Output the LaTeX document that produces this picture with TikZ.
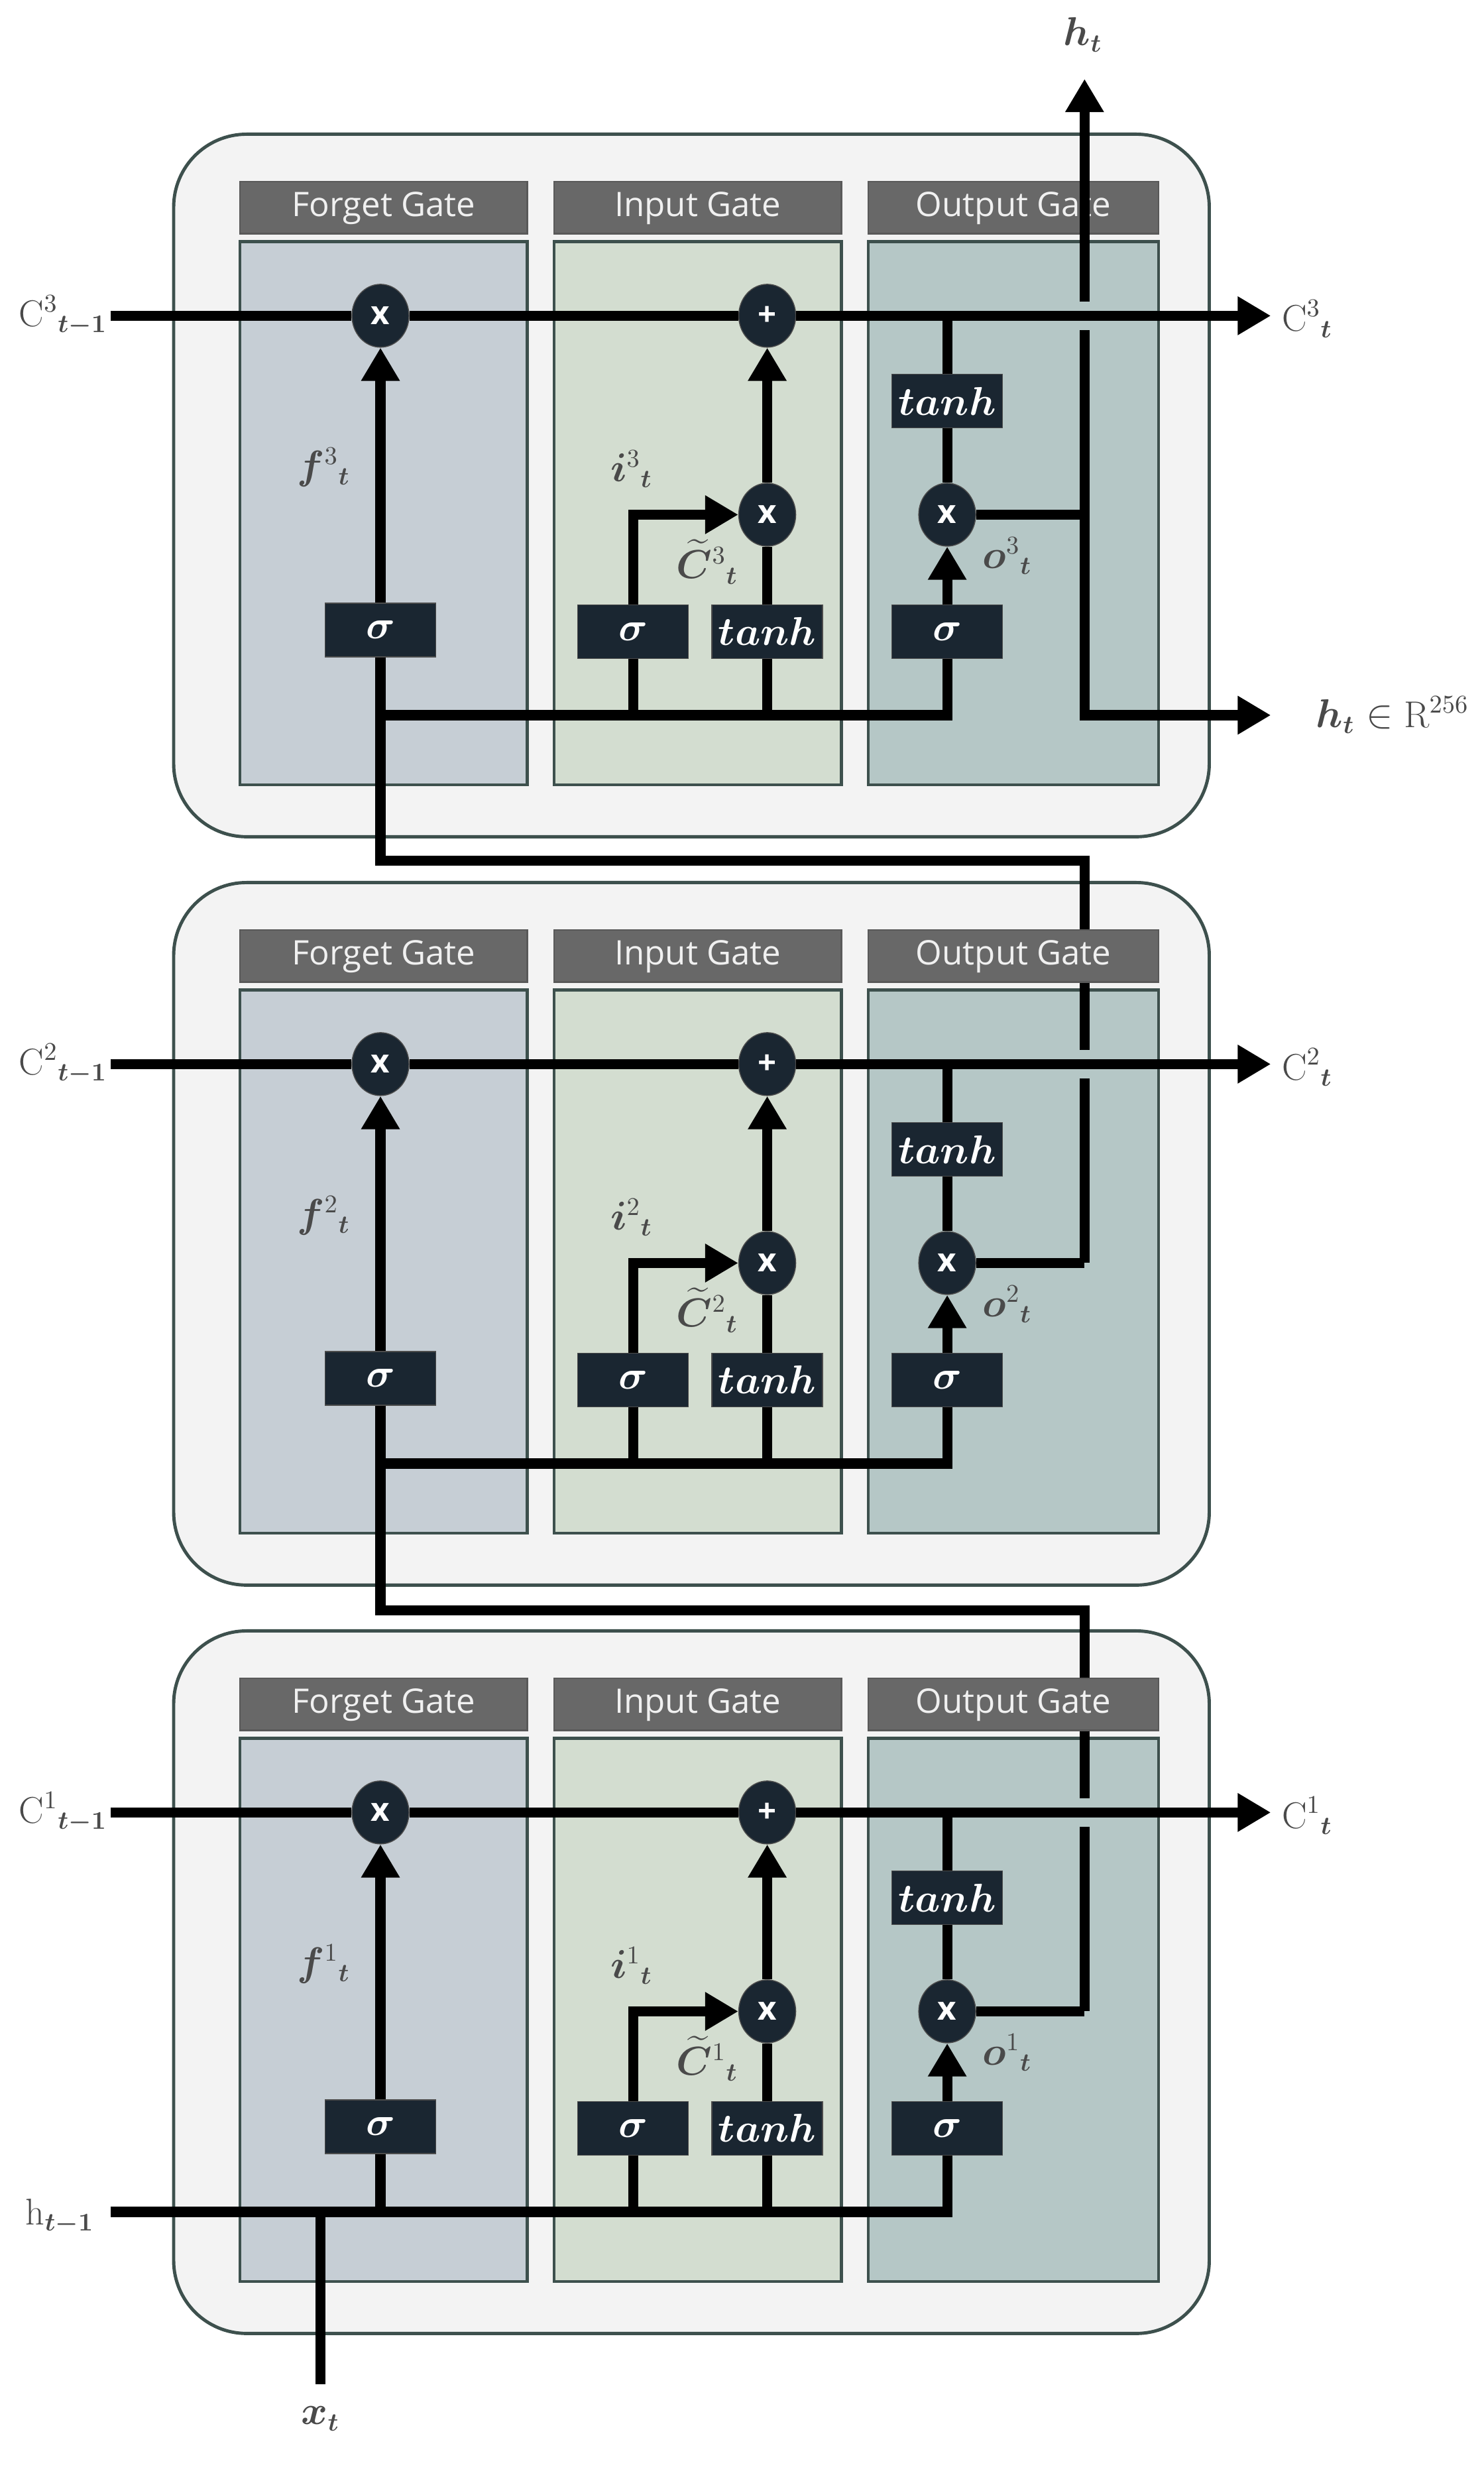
\documentclass[tikz,border=0pt]{standalone}
\usepackage{amsmath,amssymb,bm}
\usepackage{fontspec}
\newfontfamily\hdrfont{Open Sans}
\usetikzlibrary{arrows.meta,shapes.geometric}
\definecolor{outerfill}{HTML}{F3F3F3}
\definecolor{outerdraw}{HTML}{3D504D}
\definecolor{fgfill}{HTML}{C6CED5}
\definecolor{infill}{HTML}{D3DDD0}
\definecolor{outfill}{HTML}{B5C7C6}
\definecolor{hdrfill}{HTML}{686868}
\definecolor{boxfill}{HTML}{1A2631}
\definecolor{lbl}{HTML}{4A4A4A}
\tikzset{
  outer/.style={fill=outerfill,draw=outerdraw,line width=1.4pt,rounded corners=1.1cm},
  panel/.style={draw=outerdraw,line width=1.2pt},
  hdr/.style={fill=hdrfill,draw=gray!70!black,line width=0.6pt},
  hdrtext/.style={text=white!88!gray,font=\hdrfont\fontsize{14.5}{16}\selectfont},
  op/.style={ellipse,fill=boxfill,draw=black!70,minimum width=0.86cm,minimum height=0.95cm,inner sep=0pt,text=white,font=\hdrfont\bfseries\fontsize{14}{16}\selectfont},
  fn/.style={rectangle,fill=boxfill,draw=black!70,minimum width=1.67cm,minimum height=0.81cm,inner sep=0pt,text=white,font=\fontsize{17}{20}\selectfont},
  wire/.style={line width=4.3pt,black},
  arr/.style={wire,-{Triangle[length=0.5cm,width=0.55cm]}},
  lab/.style={text=lbl,inner sep=1pt,font=\fontsize{16}{19}\selectfont},
}
\begin{document}
\begin{tikzpicture}[x=0.02382cm,y=-0.02382cm]
\useasboundingbox (0,0) rectangle (940,1574);
\foreach \k/\dy in {3/0,2/474,1/948}{
  \begin{scope}[yshift=-\dy*0.02382cm]
  \draw[outer] (110,85) rectangle (766,530);
  \draw[panel,fill=fgfill] (152,153) rectangle (334,497);
  \draw[panel,fill=infill] (351,153) rectangle (533,497);
  \draw[panel,fill=outfill] (550,153) rectangle (734,497);
  \end{scope}
}
\foreach \k/\dy in {3/0,2/474,1/948}{
  \begin{scope}[yshift=-\dy*0.02382cm]
  \coordinate (cin\k) at (70,200);
  \coordinate (cout\k) at (805,200);
  \coordinate (cj\k) at (600,200);
  \coordinate (busL\k) at (241,453);
  \coordinate (busR\k) at (600,453);
  \coordinate (hj\k) at (687,326);
  \coordinate (ga\k) at (687,209);
  \coordinate (gb\k) at (687,191);
  \end{scope}
}
\coordinate (up2) at (687,545); \coordinate (lf2) at (241,545);
\coordinate (up1) at (687,1020); \coordinate (lf1) at (241,1020);
\draw[wire] (hj2) -- (ga2);
\draw[wire] (gb2) -- (up2) -- (lf2) -- (busL3);
\draw[wire] (hj1) -- (ga1);
\draw[wire] (gb1) -- (up1) -- (lf1) -- (busL2);
\foreach \k/\dy in {3/0,2/474,1/948}{
  \begin{scope}[yshift=-\dy*0.02382cm]
  \draw[hdr] (152,115) rectangle (334,148);
  \draw[hdr] (351,115) rectangle (533,148);
  \draw[hdr] (550,115) rectangle (734,148);
  \node[hdrtext] (hf\k) at (243,132) {Forget Gate};
  \node[hdrtext] (hi\k) at (442,132) {Input Gate};
  \node[hdrtext] (ho\k) at (642,132) {Output Gate};
  \node[op] (fx\k) at (241,200) {x};
  \node[op] (ip\k) at (486,200) {+};
  \node[op] (ix\k) at (486,326) {x};
  \node[op] (ox\k) at (600,326) {x};
  \node[fn] (fs\k) at (241,399) {$\bm{\sigma}$};
  \node[fn] (is\k) at (401,400) {$\bm{\sigma}$};
  \node[fn] (it\k) at (486,400) {$\bm{tanh}$};
  \node[fn] (os\k) at (600,400) {$\bm{\sigma}$};
  \node[fn] (ot\k) at (600,254) {$\bm{tanh}$};
  \node[lab] (lc\k) at (40,200) {$\mathrm{C}^{\k}{}_{\bm{t-1}}$};
  \node[lab] (lo\k) at (828,202) {$\mathrm{C}^{\k}{}_{\bm{t}}$};
  \node[lab] (lf\k) at (205,296) {$\bm{f}^{\k}{}_{\bm{t}}$};
  \node[lab] (li\k) at (400,297) {$\bm{i}^{\k}{}_{\bm{t}}$};
  \node[lab] (lt\k) at (448,356) {$\widetilde{\bm{C}}^{\k}{}_{\bm{t}}$};
  \node[lab] (lO\k) at (638,352) {$\bm{o}^{\k}{}_{\bm{t}}$};
  \end{scope}
  \draw[wire] (cin\k) -- (fx\k);
  \draw[wire] (fx\k) -- (ip\k);
  \draw[arr] (ip\k) -- (cout\k);
  \draw[arr] (fs\k) -- (fx\k);
  \draw[arr] (is\k.north) |- (ix\k);
  \draw[wire] (it\k) -- (ix\k);
  \draw[arr] (ix\k) -- (ip\k);
  \draw[arr] (os\k) -- (ox\k);
  \draw[wire] (ox\k) -- (ot\k);
  \draw[wire] (ot\k) -- (cj\k);
  \draw[wire] (fs\k) -- (busL\k) -- (busR\k) -- (os\k);
  \draw[wire] (is\k) -- (is\k |- busL\k);
  \draw[wire] (it\k) -- (it\k |- busL\k);
  \draw[wire] (ox\k) -- (hj\k);
}
\coordinate (htop) at (687,50);
\coordinate (hcorner) at (687,453);
\coordinate (hright) at (805,453);
\draw[wire] (hj3) -- (ga3);
\draw[arr] (gb3) -- (htop);
\draw[arr] (hj3) -- (hcorner) -- (hright);
\node[lab] (lht) at (686,22) {$\bm{h}_{\bm{t}}$};
\node[lab,anchor=west] (lhr) at (832,453) {$\bm{h}_{\bm{t}}\in\mathrm{R}^{256}$};
\coordinate (hin) at (70,1401);
\coordinate (xin) at (203,1510);
\coordinate (xj) at (203,1401);
\draw[wire] (hin) -- (busL1);
\draw[wire] (xin) -- (xj);
\node[lab] (lh) at (38,1404) {$\mathrm{h}_{\bm{t-1}}$};
\node[lab] (lx) at (203,1532) {$\bm{x}_{\bm{t}}$};
\end{tikzpicture}
\end{document}
